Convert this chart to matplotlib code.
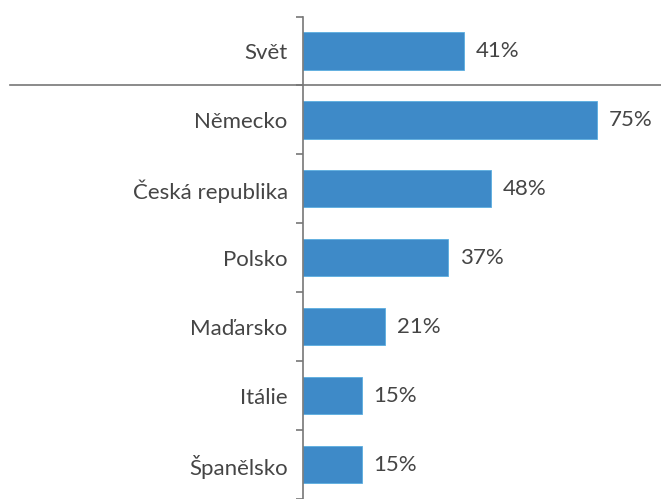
import matplotlib
matplotlib.use("Agg")
import matplotlib.pyplot as plt
import matplotlib.transforms as mtransforms
import numpy as np

categories = ["Svět", "Německo", "Česká republika", "Polsko", "Maďarsko", "Itálie", "Španělsko"]
values = [41, 75, 48, 37, 21, 15, 15]

plt.rcParams['font.family'] = ['Lato', 'DejaVu Sans']

fig = plt.figure(figsize=(6.61, 4.99), dpi=100)
ax = fig.add_axes([303 / 661, 0.0, 1 - 303 / 661, 1 - 16.5 / 499])

bar_color = "#3e8ac8"
text_color = "#454545"
y = np.arange(len(categories))
ax.barh(y, values, height=0.54, color=bar_color, edgecolor="#5aaee0", linewidth=0.6)
ax.set_ylim(len(categories) - 0.5, -0.5)
ax.set_xlim(0, (661 - 303) / 3.92)

fs = 16
for yi, v in zip(y, values):
    ax.text(v + 3.0, yi, f"{v}%", va="center", ha="left", fontsize=fs, color=text_color)

ax.set_yticks(y)
ax.set_yticklabels(categories, fontsize=fs, color=text_color)
ax.tick_params(axis="y", which="major", length=0, pad=11)
ax.set_yticks(np.arange(-0.5, len(categories), 1.0), minor=True)
ax.tick_params(axis="y", which="minor", length=5, width=1.2, color="#777777", direction="out")
ax.set_xticks([])
for s in ["top", "right", "bottom"]:
    ax.spines[s].set_visible(False)
ax.spines["left"].set_color("#777777")
ax.spines["left"].set_linewidth(1.2)

trans = mtransforms.blended_transform_factory(fig.transFigure, ax.transData)
ax.plot([10 / 661, 1.0], [0.5, 0.5], transform=trans, color="#777777", linewidth=1.2, clip_on=False)

fig.savefig("out.png", dpi=100)
